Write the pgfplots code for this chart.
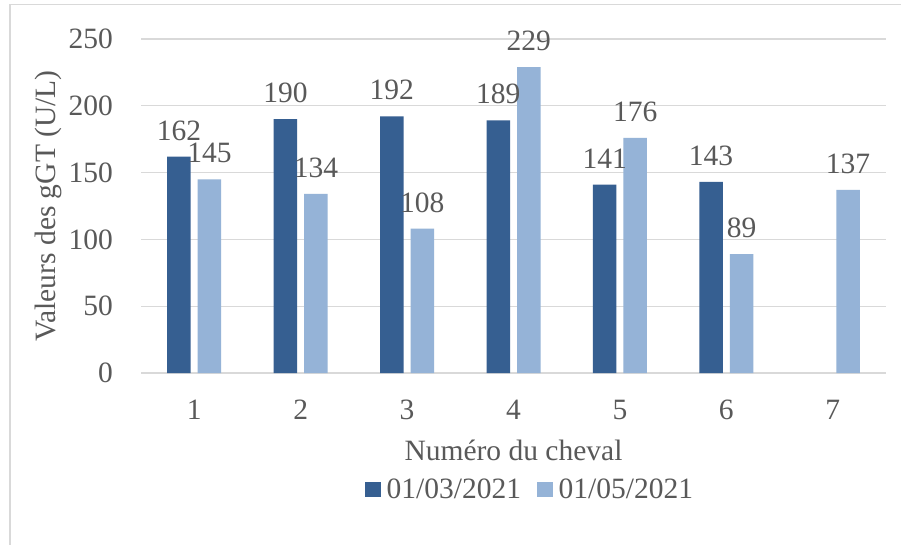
\documentclass[border=0pt]{standalone}
\usepackage{fontspec}
\setmainfont{Liberation Serif}
\usepackage{pgfplots}
\pgfplotsset{compat=1.18}
\definecolor{darkbar}{RGB}{54,95,145}
\definecolor{lightbar}{RGB}{149,179,215}
\definecolor{gridc}{RGB}{217,217,217}
\definecolor{txt}{RGB}{89,89,89}
\pgfplotsset{sqlegend/.style={legend image code/.code={\fill[##1] (0pt,-7.75pt) rectangle (15.5pt,7.75pt);}}}
\begin{document}
\begin{tikzpicture}[font=\fontsize{29.5}{35}\selectfont]
\useasboundingbox (0,0) rectangle (901pt,544pt);
\fill[white] (0,0) rectangle (901pt,544pt);
\draw[gridc, line width=1.2pt] (10pt,-2pt) -- (10pt,539.5pt) -- (903pt,539.5pt);
\begin{axis}[
  at={(141pt,171pt)}, anchor=south west,
  scale only axis, width=745pt, height=334pt,
  ybar=7pt, bar width=23.5pt,
  xmin=0.5, xmax=7.5, ymin=0, ymax=250,
  xtick={1,...,7}, ytick={0,50,...,250},
  axis line style={draw=none},
  major tick length=0pt,
  ymajorgrids, grid style={gridc, line width=1.3pt},
  tick label style={text=txt},
  /pgf/number format/assume math mode=true,
  yticklabel style={anchor=east, inner sep=0pt, xshift=-28pt},
  xticklabel style={anchor=north, inner sep=0pt, yshift=-27pt},
  xlabel={Numéro du cheval},
  ylabel={Valeurs des gGT (U/L)},
  xlabel style={at={(axis description cs:0.5,0)}, anchor=base, yshift=-87pt, text=txt, inner sep=0pt},
  ylabel style={at={(axis description cs:-0.1154,0.5)}, anchor=base, text=txt, inner sep=0pt},
  nodes near coords,
  every node near coord/.append style={anchor=base, yshift=16.5pt, inner sep=0pt, text=txt},
  legend columns=2,
  legend style={draw=none, fill=none, at={(axis description cs:0.3007,-0.3488)}, anchor=west, inner sep=0pt, nodes={inner sep=0pt, text=txt}, column sep=6pt, /tikz/every even column/.append style={column sep=16pt}},
]
\addplot[fill=darkbar, draw=none, sqlegend] coordinates {(1,162) (2,190) (3,192) (4,189) (5,141) (6,143)};
\addplot[fill=lightbar, draw=none, sqlegend] coordinates {(1,145) (2,134) (3,108) (4,229) (5,176) (6,89) (7,137)};
\legend{01/03/2021, 01/05/2021}
\end{axis}
\end{tikzpicture}
\end{document}
